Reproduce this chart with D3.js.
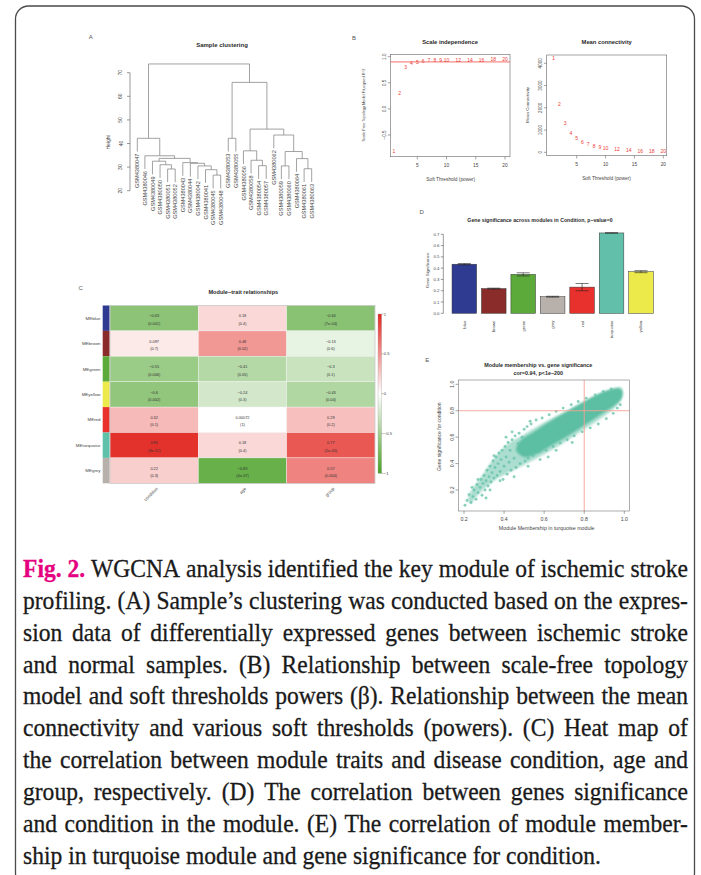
<!DOCTYPE html>
<html><head><meta charset="utf-8">
<script src="https://cdn.jsdelivr.net/npm/d3@7"></script>
<style>body{margin:0;background:#fff}svg{display:block}</style>
</head><body>
<svg id="c" width="701" height="875"></svg>
<script>
// ---------------- DATA ----------------
// A: sample clustering
const leafNames = ["GSM4380047","GSM4380046","GSM4380049","GSM4380050","GSM4380051","GSM4380052",
  "GSM4380043","GSM4380044","GSM4380042","GSM4380041","GSM4380045","GSM4380048",
  "GSM4380053","GSM4380055","GSM4380056","GSM4380058","GSM4380054","GSM4380057",
  "GSM4380062","GSM4380059","GSM4380060","GSM4380064","GSM4380061","GSM4380063"];
const merges = [ // [id, child1, child2, height]
  ["A1","GSM4380051","GSM4380052",29.2],["A2","GSM4380050","A1",31.0],["A3","GSM4380049","A2",32.5],
  ["B1","GSM4380045","GSM4380048",26.6],["B2","GSM4380041","B1",28.9],["B3","GSM4380042","B2",30.5],
  ["B4","GSM4380044","B3",31.6],["B5","GSM4380043","B4",31.9],["L3","A3","B5",33.7],
  ["L2","GSM4380046","L3",34.8],["L1","GSM4380047","L2",42.2],
  ["R1","GSM4380053","GSM4380055",42.2],["C1","GSM4380054","GSM4380057",30.6],["C2","GSM4380058","C1",32.9],
  ["C3","GSM4380056","C2",36.9],["D1","GSM4380061","GSM4380063",29.3],["D2","GSM4380064","D1",33.6],
  ["D3","GSM4380059","GSM4380060",30.5],["D4","D3","D2",36.6],["D5","GSM4380062","D4",43.6],
  ["E1","C3","D5",46.1],["R0","R1","E1",65.9],["ROOT","L1","R0",73.7]];
const heightTicks = [20,30,40,50,60,70];

// B: soft threshold
const sftPowers = [1,2,3,4,5,6,7,8,9,10,12,14,16,18,20];
const sftFit = [-0.81,0.30,0.81,0.885,0.90,0.92,0.93,0.93,0.93,0.93,0.935,0.94,0.945,0.95,0.96];
const meanK = [4225,2157,1330,880,656,476,373,297,238,207,135,103,72,60,45];
const powerTicks = [5,10,15,20];
const fitTicks = [-0.5,0,0.5,1];
const fitTickLabels = ["\u22120.5","0.0","0.5","1.0"];
const kTicks = [0,1000,2000,3000,4000];
const fitCut = 0.9;

// C: module-trait heatmap
const modules = ["MEblue","MEbrown","MEgreen","MEyellow","MEred","MEturquoise","MEgrey"];
const moduleColors = ["#2f3a91","#8a2d2a","#5cab3a","#ece94a","#e8302c","#5fc1aa","#b8b0aa"];
const traits = ["condition","age","group"];
const corCondition = [-0.63,0.097,-0.55,-0.6,0.32,0.95,0.22];
const corAge = [0.18,0.48,-0.41,-0.24,0.00072,0.18,-0.83];
const corGroup = [-0.64,-0.13,-0.3,-0.43,0.29,0.77,0.57];
const pCondition = ["0.001","0.7","0.006","0.002","0.1","3e-12","0.3"];
const pAge = ["0.4","0.02","0.05","0.3","1","0.4","4e-07"];
const pGroup = ["7e-04","0.6","0.1","0.04","0.2","1e-05","0.004"];
const legendTicks = [1,0.5,0,-0.5,-1];

// D: gene significance
const gsModules = ["blue","brown","green","grey","red","turquoise","yellow"];
const gsColors = ["#2f3a91","#8a2d2a","#5cab3a","#b8b0aa","#e8302c","#62c0aa","#ece94a"];
const gsMean = [0.435,0.219,0.345,0.147,0.232,0.712,0.369];
const gsErr = [0.006,0.004,0.014,0.004,0.032,0.002,0.009];
const gsTicks = [0,0.1,0.2,0.3,0.4,0.5,0.6,0.7];

// E: module membership vs gene significance
const mmTicks = [0.2,0.4,0.6,0.8,1.0];
const mmCut = 0.8;
// outer envelope of the point cloud (sparser zone)
const mmHalo = [[0.22,0.14],[0.30,0.33],[0.36,0.46],[0.42,0.55],[0.50,0.62],[0.60,0.71],[0.70,0.79],
  [0.80,0.87],[0.88,0.93],[0.95,0.97],[0.985,0.975],[0.99,0.92],[0.97,0.85],[0.90,0.76],[0.80,0.66],
  [0.70,0.56],[0.60,0.47],[0.50,0.39],[0.42,0.33],[0.35,0.27],[0.28,0.18],[0.23,0.10]];
// dense core of the cloud
const mmCore = [[0.48,0.57],[0.55,0.64],[0.62,0.71],[0.70,0.78],[0.78,0.85],[0.85,0.91],[0.92,0.955],
  [0.97,0.97],[0.99,0.95],[0.985,0.89],[0.95,0.84],[0.88,0.77],[0.80,0.69],[0.72,0.61],[0.64,0.54],
  [0.56,0.47],[0.50,0.45],[0.46,0.50]];
// individual genes visible around the cloud
const mmPoints = [[0.205,0.085],[0.215,0.12],[0.225,0.165],[0.235,0.105],[0.245,0.15],[0.25,0.2],
  [0.26,0.13],[0.265,0.24],[0.27,0.18],[0.28,0.22],[0.285,0.28],[0.29,0.16],[0.295,0.25],[0.30,0.31],
  [0.305,0.2],[0.31,0.27],[0.315,0.35],[0.32,0.23],[0.325,0.3],[0.33,0.38],[0.335,0.26],[0.34,0.33],
  [0.345,0.42],[0.35,0.29],[0.355,0.37],[0.36,0.45],[0.365,0.31],[0.37,0.4],[0.375,0.48],[0.38,0.34],
  [0.385,0.43],[0.39,0.5],[0.395,0.28],[0.40,0.38],[0.405,0.53],[0.41,0.45],[0.415,0.32],[0.42,0.56],
  [0.425,0.41],[0.43,0.5],[0.435,0.35],[0.44,0.58],[0.45,0.44],[0.455,0.61],[0.46,0.37],[0.47,0.55],
  [0.475,0.63],[0.48,0.4],[0.49,0.6],[0.50,0.66],[0.505,0.42],[0.515,0.68],[0.52,0.44],[0.535,0.7],
  [0.545,0.46],[0.56,0.73],[0.575,0.49],[0.59,0.745],[0.61,0.5],[0.625,0.77],[0.645,0.53],[0.66,0.795],
  [0.68,0.555],[0.695,0.82],[0.715,0.58],[0.735,0.845],[0.75,0.61],[0.77,0.87],[0.79,0.64],[0.81,0.895],
  [0.83,0.67],[0.855,0.92],[0.87,0.7],[0.895,0.945],[0.91,0.74],[0.935,0.965],[0.945,0.78],[0.965,0.82],
  [0.98,0.845],[0.33,0.2],[0.38,0.27],[0.45,0.3],[0.52,0.38],[0.27,0.28],[0.35,0.46],[0.41,0.6],
  [0.58,0.43],[0.66,0.5],[0.24,0.22],[0.31,0.14],[0.44,0.64],[0.53,0.72],[0.62,0.45],[0.74,0.56]];

// Caption
const captionLines = [
  "WGCNA analysis identified the key module of ischemic stroke",
  "profiling. (A) Sample\u2019s clustering was conducted based on the expres-",
  "sion data of differentially expressed genes between ischemic stroke",
  "and normal samples. (B) Relationship between scale-free topology",
  "model and soft thresholds powers (\u03b2). Relationship between the mean",
  "connectivity and various soft thresholds (powers). (C) Heat map of",
  "the correlation between module traits and disease condition, age and",
  "group, respectively. (D) The correlation between genes significance",
  "and condition in the module. (E) The correlation of module member-",
  "ship in turquoise module and gene significance for condition."];

// ---------------- DRAW ----------------
const svg = d3.select("#c");
const SANS = "'Liberation Sans', Arial, Helvetica, sans-serif";
const SERIF = "'Liberation Serif', 'Times New Roman', serif";
const INK = "#2a2a2a";

function txt(g, x, y, s, size, o = {}) {
  const t = g.append("text").attr("x", x).attr("y", y).text(s)
    .attr("font-family", o.family || SANS).attr("font-size", size).attr("fill", o.fill || INK);
  if (o.anchor) t.attr("text-anchor", o.anchor);
  if (o.weight) t.attr("font-weight", o.weight);
  if (o.baseline) t.attr("dominant-baseline", o.baseline);
  if (o.rotate != null) t.attr("transform", `rotate(${o.rotate},${x},${y})`);
  return t;
}
function seg(g, x1, y1, x2, y2, col, w) {
  return g.append("line").attr("x1", x1).attr("y1", y1).attr("x2", x2).attr("y2", y2)
    .attr("stroke", col || INK).attr("stroke-width", w || 0.6);
}
const defs = svg.append("defs");
defs.append("filter").attr("id", "soft").attr("x", "-10%").attr("y", "-10%").attr("width", "120%").attr("height", "120%")
  .append("feGaussianBlur").attr("stdDeviation", 1.3);

// frame
svg.append("rect").attr("x", 15.5).attr("y", 6).attr("width", 679).attr("height", 880)
  .attr("rx", 13).attr("fill", "none").attr("stroke", "#4a4a4a").attr("stroke-width", 1.3);

// ===== Panel A =====
const gA = svg.append("g");
txt(gA, 90.7, 39, "A", 6, {anchor: "middle", fill: "#555"});
txt(gA, 222, 47, "Sample clustering", 6, {anchor: "middle", weight: "bold"});
const ax = d3.scalePoint().domain(leafNames).range([137.3, 311.7]);
const ay = d3.scaleLinear().domain([20, 70]).range([190.7, 72.7]);
const nodes = {};
leafNames.forEach(n => nodes[n] = {x: ax(n), leaf: true});
merges.forEach(([id, a, b, h]) => {
  nodes[id] = {x: (nodes[a].x + nodes[b].x) / 2, h, leaf: false};
  nodes[a].ph = h; nodes[b].ph = h;
});
const hang = 5.6, dcol = "#8a8a8a";
merges.forEach(([id, a, b, h]) => {
  [a, b].forEach(c => {
    const n = nodes[c];
    seg(gA, n.x, ay(h), n.x, ay(n.leaf ? h - hang : n.h), dcol, 0.8);
  });
  seg(gA, nodes[a].x, ay(h), nodes[b].x, ay(h), dcol, 0.8);
});
leafNames.forEach(n => {
  const x = nodes[n].x + 2.1, y = ay(nodes[n].ph - hang) + 2;
  txt(gA, x, y, n, 5.6, {anchor: "end", rotate: -90, fill: "#444"});
});
seg(gA, 130, ay(20), 130, ay(70), "#555", 0.6);
heightTicks.forEach(t => {
  seg(gA, 127, ay(t), 130, ay(t), "#555", 0.6);
  txt(gA, 122.5, ay(t), t, 5, {anchor: "middle", rotate: -90, fill: "#444"});
});
txt(gA, 110, ay(40.5), "Height", 5, {anchor: "middle", rotate: -90, fill: "#444"});

// ===== Panel B left =====
const gB = svg.append("g");
txt(gB, 354, 40, "B", 6, {anchor: "middle", fill: "#555"});
txt(gB, 450, 44, "Scale independence", 5.8, {anchor: "middle", weight: "bold"});
const bx = d3.scaleLinear().domain([5, 20]).range([417.3, 505]);
const by = d3.scaleLinear().domain([-0.5, 1]).range([135, 56.7]);
gB.append("rect").attr("x", 390.5).attr("y", 54.3).attr("width", 510 - 390.5).attr("height", 156.7 - 54.3)
  .attr("fill", "none").attr("stroke", "#666").attr("stroke-width", 0.6);
powerTicks.forEach(t => {
  seg(gB, bx(t), 156.7, bx(t), 159.5, "#666", 0.6);
  txt(gB, bx(t), 167, t, 4.8, {anchor: "middle", fill: "#444"});
});
fitTicks.forEach((t, i) => {
  seg(gB, 387.7, by(t), 390.5, by(t), "#666", 0.6);
  txt(gB, 386.3, by(t), fitTickLabels[i], 4.6, {anchor: "middle", rotate: -90, fill: "#444"});
});
seg(gB, 390.5, by(fitCut), 510, by(fitCut), "#ef4b45", 0.8);
sftPowers.forEach((p, i) => {
  txt(gB, bx(p), by(sftFit[i]), p, 5, {anchor: "middle", baseline: "central", fill: "#ec3b35"});
});
txt(gB, 450.7, 180.5, "Soft Threshold (power)", 4.8, {anchor: "middle", fill: "#444"});
txt(gB, 365, 105, "Scale Free Topology Model Fit,signed R^2", 3.9, {anchor: "middle", rotate: -90, fill: "#444"});

// ===== Panel B right =====
const gB2 = svg.append("g");
txt(gB2, 606.7, 44, "Mean connectivity", 5.8, {anchor: "middle", weight: "bold"});
const kx = d3.scaleLinear().domain([5, 20]).range([576.7, 663.3]);
const ky = d3.scaleLinear().domain([0, 4000]).range([152.3, 63.3]);
gB2.append("rect").attr("x", 546.7).attr("y", 55).attr("width", 666.7 - 546.7).attr("height", 155.7 - 55)
  .attr("fill", "none").attr("stroke", "#666").attr("stroke-width", 0.6);
powerTicks.forEach(t => {
  seg(gB2, kx(t), 155.7, kx(t), 158.5, "#666", 0.6);
  txt(gB2, kx(t), 166.3, t, 4.8, {anchor: "middle", fill: "#444"});
});
kTicks.forEach(t => {
  seg(gB2, 543.9, ky(t), 546.7, ky(t), "#666", 0.6);
  txt(gB2, 542.5, ky(t), t, 4.6, {anchor: "middle", rotate: -90, fill: "#444"});
});
sftPowers.forEach((p, i) => {
  txt(gB2, kx(p), ky(meanK[i]), p, 5, {anchor: "middle", baseline: "central", fill: "#ec3b35"});
});
txt(gB2, 606.5, 179.8, "Soft Threshold (power)", 4.8, {anchor: "middle", fill: "#444"});
txt(gB2, 528.5, 105, "Mean Connectivity", 4.4, {anchor: "middle", rotate: -90, fill: "#444"});

// ===== Panel C =====
const gC = svg.append("g");
txt(gC, 80.7, 290, "C", 6, {anchor: "middle", fill: "#555"});
txt(gC, 243.3, 294, "Module\u2212trait relationships", 5.6, {anchor: "middle", weight: "bold"});
const hy = d3.scaleBand().domain(modules).range([305.5, 483.3]);
const hx = d3.scaleBand().domain(traits).range([110, 375]);
const corCols = [corCondition, corAge, corGroup];
const pCols = [pCondition, pAge, pGroup];
const colorScale = d3.scaleLinear().domain([-1, 0, 1]).range(["#48a025", "#ffffff", "#e22620"]);
modules.forEach((m, r) => {
  gC.append("rect").attr("x", 102.7).attr("y", hy(m)).attr("width", 7).attr("height", hy.bandwidth())
    .attr("fill", moduleColors[r]);
  txt(gC, 100.5, hy(m) + hy.bandwidth() / 2 + 1.6, m, 4.4, {anchor: "end", fill: "#444"});
  traits.forEach((t, c) => {
    const v = corCols[c][r];
    gC.append("rect").attr("x", hx(t)).attr("y", hy(m)).attr("width", hx.bandwidth()).attr("height", hy.bandwidth())
      .attr("fill", colorScale(v)).attr("stroke", "#f4f4f4").attr("stroke-width", 0.4);
    const cx = hx(t) + hx.bandwidth() / 2, cy = hy(m) + hy.bandwidth() / 2;
    const s = (v < 0 ? "\u2212" + String(Math.abs(v)) : String(v));
    txt(gC, cx, cy - 0.8, s, 3.9, {anchor: "middle", fill: "#333"});
    txt(gC, cx, cy + 6.6, "(" + pCols[c][r] + ")", 3.9, {anchor: "middle", fill: "#333"});
  });
});
gC.append("rect").attr("x", 110).attr("y", 305.5).attr("width", 265).attr("height", 483.3 - 305.5)
  .attr("fill", "none").attr("stroke", "#bbb").attr("stroke-width", 0.6);
traits.forEach(t => {
  const x = hx(t) + hx.bandwidth() / 2 + 4, y = 489;
  txt(gC, x, y, t, 4.4, {anchor: "end", rotate: -45, fill: "#444"});
});
// colour legend
const grad = defs.append("linearGradient").attr("id", "cg").attr("x1", 0).attr("y1", 1).attr("x2", 0).attr("y2", 0);
d3.range(-1, 1.001, 0.1).forEach(v => grad.append("stop").attr("offset", (v + 1) / 2).attr("stop-color", colorScale(v)));
const ly = d3.scaleLinear().domain([-1, 1]).range([473.3, 314]);
gC.append("rect").attr("x", 378).attr("y", ly(1)).attr("width", 3.6).attr("height", ly(-1) - ly(1))
  .attr("fill", "url(#cg)").attr("stroke", "#999").attr("stroke-width", 0.3);
legendTicks.forEach(t => {
  seg(gC, 381.6, ly(t), 383.4, ly(t), "#666", 0.5);
  txt(gC, 383.8, ly(t) + 1.5, t < 0 ? "\u2212" + Math.abs(t) : t, 4.2, {fill: "#444"});
});

// ===== Panel D =====
const gD = svg.append("g");
txt(gD, 421.7, 214, "D", 6, {anchor: "middle", fill: "#555"});
txt(gD, 540, 222, "Gene significance across modules in Condition, p\u2212value=0", 5.2, {anchor: "middle", weight: "bold"});
const dx = d3.scaleBand().domain(gsModules).range([449.6, 655.7]).paddingInner(0.165).paddingOuter(0.0825);
const dy = d3.scaleLinear().domain([0, 0.7]).range([313.3, 234.3]);
seg(gD, 443.3, dy(0), 443.3, dy(0.7), "#555", 0.6);
gsTicks.forEach(t => {
  seg(gD, 440.8, dy(t), 443.3, dy(t), "#555", 0.6);
  txt(gD, 439.5, dy(t) + 1.5, t.toFixed(1), 4.3, {anchor: "end", fill: "#444"});
});
txt(gD, 429.5, dy(0.38), "Gene Significance", 4.4, {anchor: "middle", rotate: -90, fill: "#444"});
gsModules.forEach((m, i) => {
  gD.append("rect").attr("x", dx(m)).attr("y", dy(gsMean[i])).attr("width", dx.bandwidth())
    .attr("height", dy(0) - dy(gsMean[i])).attr("fill", gsColors[i]).attr("stroke", "#333").attr("stroke-width", 0.5);
  const cx = dx(m) + dx.bandwidth() / 2;
  seg(gD, cx, dy(gsMean[i] - gsErr[i]), cx, dy(gsMean[i] + gsErr[i]), "#222", 0.6);
  [gsMean[i] - gsErr[i], gsMean[i] + gsErr[i]].forEach(v => seg(gD, cx - 6.5, dy(v), cx + 6.5, dy(v), "#222", 0.6));
  txt(gD, cx + 1.5, 320.5, m, 4.3, {anchor: "end", rotate: -90, fill: "#444"});
});

// ===== Panel E =====
const gE = svg.append("g");
txt(gE, 427.3, 361.5, "E", 6, {anchor: "middle", fill: "#555"});
txt(gE, 538.3, 367, "Module membership vs. gene significance", 5.4, {anchor: "middle", weight: "bold"});
txt(gE, 538.3, 374.8, "cor=0.94, p<1e\u2212200", 5.4, {anchor: "middle", weight: "bold"});
const ex = d3.scaleLinear().domain([0.2, 1.0]).range([464, 624.3]);
const ey = d3.scaleLinear().domain([0.2, 1.0]).range([490, 384.3]);
const clipE = defs.append("clipPath").attr("id", "ce");
clipE.append("rect").attr("x", 458.3).attr("y", 380).attr("width", 171).attr("height", 131);
const pts = gE.append("g").attr("clip-path", "url(#ce)");
const blob = d3.line().x(d => ex(d[0])).y(d => ey(d[1])).curve(d3.curveCatmullRomClosed);
pts.append("path").attr("d", blob(mmHalo)).attr("fill", "#66c3a8").attr("fill-opacity", 0.55)
  .attr("filter", "url(#soft)");
pts.append("path").attr("d", blob(mmCore)).attr("fill", "#5cbea2").attr("filter", "url(#soft)");
pts.selectAll("circle.p").data(mmPoints).join("circle").attr("class", "p")
  .attr("cx", d => ex(d[0])).attr("cy", d => ey(d[1])).attr("r", 1.45)
  .attr("fill", "#62c1a6").attr("fill-opacity", 0.75);
seg(pts, ex(mmCut), 380, ex(mmCut), 511, "#f4a193", 0.9);
seg(pts, 458.3, ey(mmCut), 629.3, ey(mmCut), "#f4a193", 0.9);
gE.append("rect").attr("x", 458.3).attr("y", 380).attr("width", 171).attr("height", 131)
  .attr("fill", "none").attr("stroke", "#777").attr("stroke-width", 0.6);
mmTicks.forEach(t => {
  seg(gE, ex(t), 511, ex(t), 513.8, "#666", 0.6);
  txt(gE, ex(t), 520.5, t.toFixed(1), 5.2, {anchor: "middle", fill: "#444"});
  seg(gE, 455.5, ey(t), 458.3, ey(t), "#666", 0.6);
  txt(gE, 453.8, ey(t), t.toFixed(1), 5.2, {anchor: "middle", rotate: -90, fill: "#444"});
});
txt(gE, 546.7, 530, "Module Membership in turquoise module", 5.3, {anchor: "middle", fill: "#444"});
txt(gE, 441.5, 436.7, "Gene significance for condition", 5, {anchor: "middle", rotate: -90, fill: "#444"});

// ===== Caption (justified) =====
const gT = svg.append("g");
const capX = 23, capW = 665, capSize = 24.5, base0 = 577, lead = 31.85;
const lineWords = captionLines.map((l, i) => {
  const w = l.split(" ").map(s => ({t: s, lead: false}));
  if (i === 0) return [{t: "Fig.", lead: true}, {t: "2.", lead: true}].concat(w);
  return w;
});
const groups = lineWords.map((words, i) => {
  const g = gT.append("g");
  const items = words.map(w => {
    const col = w.lead ? "#e4007f" : "#1a1a1a";
    const t = g.append("text").text(w.t).attr("font-family", SERIF).attr("font-size", capSize)
      .attr("fill", col).attr("font-weight", w.lead ? "bold" : "normal")
      .attr("stroke", col).attr("stroke-width", 0.3);
    return {node: t, w: t.node().getComputedTextLength()};
  });
  return {g, items};
});
const sp = capSize * 0.25;
let scale = 1;
groups.forEach((G, i) => {
  if (i === groups.length - 1) return;
  const nat = d3.sum(G.items, d => d.w) + sp * (G.items.length - 1);
  scale = Math.min(scale, capW / nat);
});
groups.forEach((G, i) => {
  G.g.attr("transform", `translate(${capX},${base0 + i * lead}) scale(${scale},1)`);
  const sum = d3.sum(G.items, d => d.w);
  const gap = i === groups.length - 1 ? sp : (capW / scale - sum) / (G.items.length - 1);
  let x = 0;
  G.items.forEach(d => { d.node.attr("x", x).attr("y", 0); x += d.w + gap; });
});
</script>
</body></html>
